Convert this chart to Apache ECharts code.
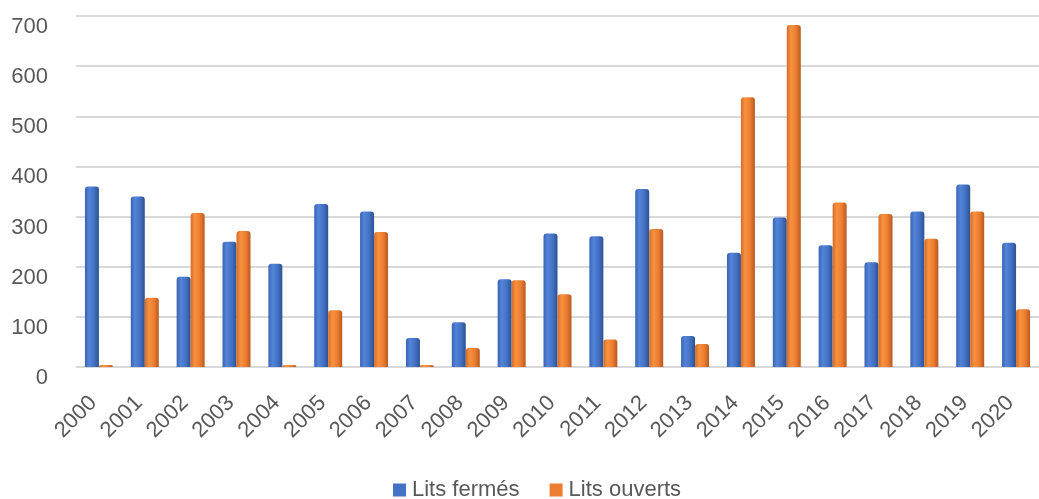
<!DOCTYPE html>
<html>
<head>
<meta charset="utf-8">
<script src="https://cdn.jsdelivr.net/npm/echarts@6/dist/echarts.min.js"></script>
<style>html,body{margin:0;padding:0;background:#fff;}#c{width:1039px;height:499px;}</style>
</head>
<body>
<div id="c"></div>
<script>
const years = ['2000','2001','2002','2003','2004','2005','2006','2007','2008','2009','2010','2011','2012','2013','2014','2015','2016','2017','2018','2019','2020'];
const litsFermes = [360,340,180,250,206,325,310,58,89,175,266,261,355,62,228,298,243,209,310,364,248];
const litsOuverts = [0,138,307,271,0,113,269,0,38,173,145,55,275,46,538,682,328,305,256,310,115];
const yTicks = [0,100,200,300,400,500,600,700];

const chart = echarts.init(document.getElementById('c'), null, {renderer:'canvas'});
const txt = '#595959';
const font = '"Liberation Sans", Arial, sans-serif';
function grad(stops){
  return new echarts.graphic.LinearGradient(0,0,1,0, stops.map((c)=>({offset:c[0], color:c[1]})));
}
chart.setOption({
  animation:false,
  backgroundColor:'#fff',
  grid:{left:76, right:-6, top:16, bottom:132, containLabel:false},
  legend:{
    top:476, left:391, padding:[2,2,2,2],
    itemWidth:13, itemHeight:13, itemGap:30,
    icon:'rect',
    textStyle:{color:txt, fontSize:22, fontFamily:font, lineHeight:24, padding:[0,0,0,1]},
    data:[{name:'Lits fermés', itemStyle:{color:'#4472c4'}},{name:'Lits ouverts', itemStyle:{color:'#ed7d31'}}]
  },
  xAxis:{
    type:'category', data:years,
    axisLine:{show:false}, axisTick:{show:false},
    axisLabel:{rotate:45, color:txt, fontSize:22, fontFamily:font, margin:27, interval:0, padding:[0,8,0,0]}
  },
  yAxis:{
    type:'value', min:yTicks[0], max:yTicks[yTicks.length-1], interval:100,
    axisLine:{show:false}, axisTick:{show:false},
    splitLine:{lineStyle:{color:'#d9d9d9', width:2}},
    axisLabel:{color:txt, fontSize:22, fontFamily:font, margin:28, verticalAlign:'top'}
  },
  series:[
    {name:'Lits fermés', type:'bar', data:litsFermes, barWidth:14, barGap:'0%',
     itemStyle:{color:grad([[0,'#3a64b4'],[0.3,'#5384d8'],[0.65,'#4472c4'],[1,'#2d5293']]), borderRadius:[3,3,0,0]}},
    {name:'Lits ouverts', type:'bar', data:litsOuverts, barWidth:14, barMinHeight:2,
     itemStyle:{color:grad([[0,'#d56c28'],[0.3,'#f8923f'],[0.65,'#ed7d31'],[1,'#b65a20']]), borderRadius:[3,3,0,0]}}
  ]
});
</script>
</body>
</html>
